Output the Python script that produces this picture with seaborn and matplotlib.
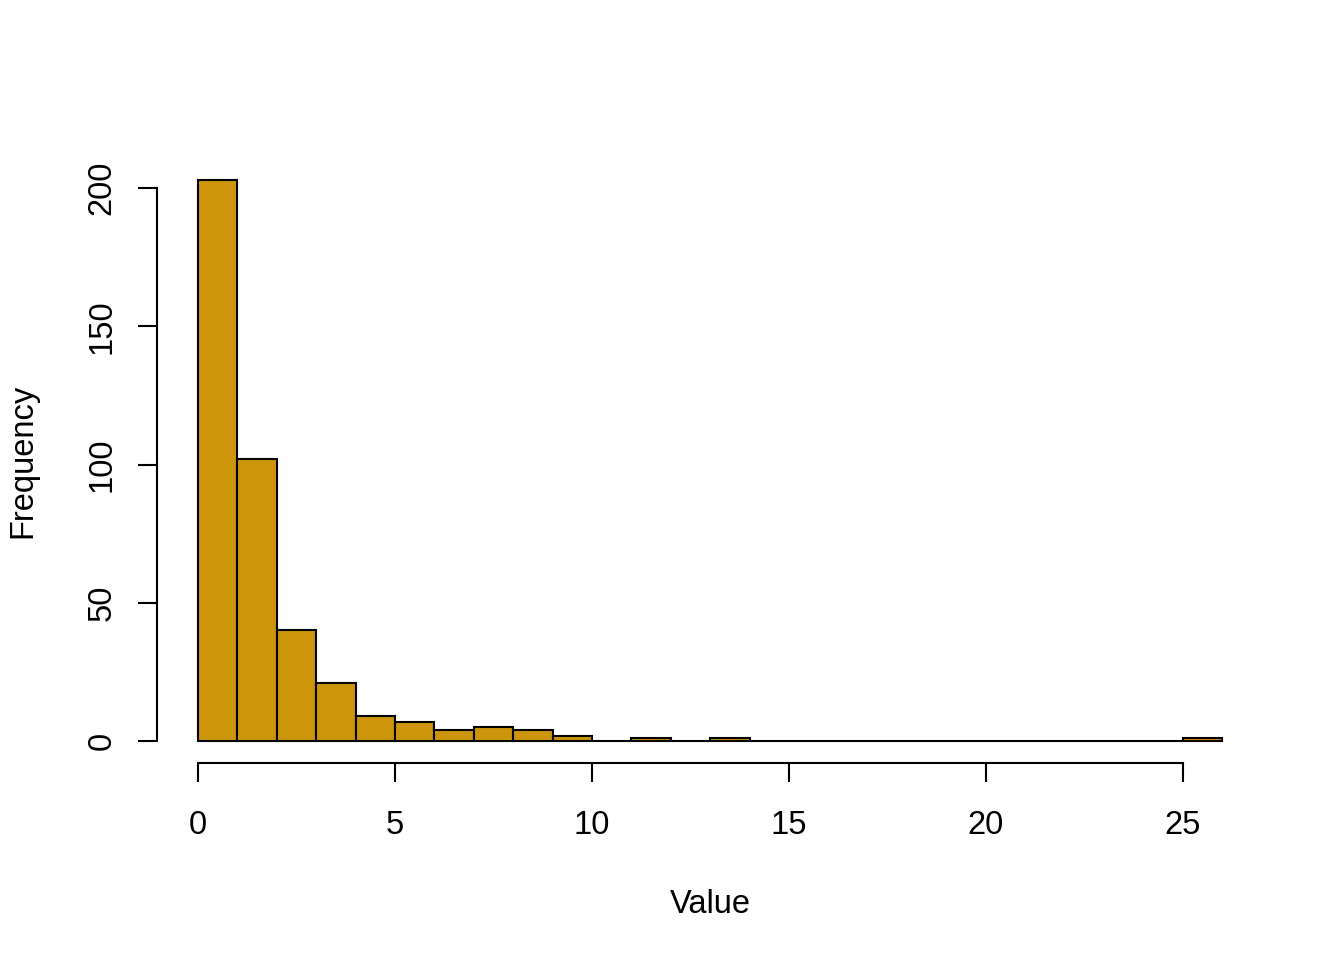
import numpy as np
import pandas as pd
import matplotlib
matplotlib.use("Agg")
import matplotlib.pyplot as plt
import seaborn as sns

# histogram bins (width 1) and counts
bin_edges = list(range(0, 27))
counts = [203, 102, 40, 21, 9, 7, 4, 5, 4, 2, 0, 1, 0, 1,
          0, 0, 0, 0, 0, 0, 0, 0, 0, 0, 0, 1]
x_ticks = [0, 5, 10, 15, 20, 25]
y_ticks = [0, 50, 100, 150, 200]

df = pd.DataFrame({
    "value": np.array(bin_edges[:-1]) + 0.5,
    "count": counts,
})

sns.set_style("ticks")
plt.rcParams["font.family"] = ["Liberation Sans", "DejaVu Sans"]
plt.rcParams["text.color"] = "black"
plt.rcParams["axes.labelcolor"] = "black"
plt.rcParams["xtick.color"] = "black"
plt.rcParams["ytick.color"] = "black"
plt.rcParams["axes.edgecolor"] = "black"

fig = plt.figure(figsize=(13.44, 9.6), dpi=100)
ax = fig.add_axes([0.1168, 0.2047, 0.8232, 0.6313])

sns.histplot(data=df, x="value", weights="count", bins=bin_edges,
             color="#CD950C", alpha=1, edgecolor="black", linewidth=1.5, ax=ax)

ax.set_xlim(-1.04, 27.04)
ax.set_ylim(-8.12, 211.12)

ax.spines["top"].set_visible(False)
ax.spines["right"].set_visible(False)
ax.spines["left"].set_bounds(0, 200)
ax.spines["bottom"].set_bounds(0, 25)
for s in ("left", "bottom"):
    ax.spines[s].set_linewidth(1.5)

ax.set_xticks(x_ticks)
ax.set_yticks(y_ticks)
ax.set_yticklabels([str(v) for v in y_ticks], rotation=90, va="center")
ax.tick_params(axis="both", length=13.7, width=1.5, labelsize=23.5)
ax.tick_params(axis="x", pad=20)
ax.tick_params(axis="y", pad=14.5)

ax.set_xlabel("Value", fontsize=23.5, labelpad=34)
ax.set_ylabel("Frequency", fontsize=23.5, labelpad=35)

fig.savefig("out.png", dpi=100)
